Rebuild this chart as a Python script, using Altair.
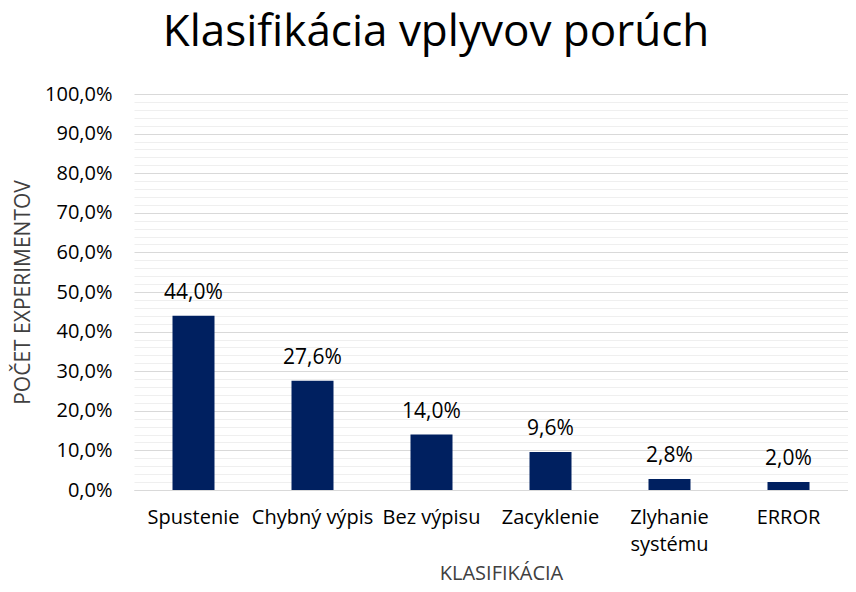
import altair as alt
import pandas as pd

CATEGORIES = ["Spustenie", "Chybný výpis", "Bez výpisu", "Zacyklenie", "Zlyhanie\nsystému", "ERROR"]
VALUES = [44.0, 27.6, 14.0, 9.6, 2.8, 2.0]
Y_TICKS = list(range(0, 101, 2))

TITLE = "Klasifikácia vplyvov porúch"
X_TITLE = "KLASIFIKÁCIA"
Y_TITLE = "POČET EXPERIMENTOV"

FONT = "Open Sans"
BAR_COLOR = "#002060"

df = pd.DataFrame({"cat": CATEGORIES, "val": VALUES})

label_fmt = "replace(format(datum.val, '.1f'), '.', ',') + '%'"

base = alt.Chart(df).encode(
    x=alt.X(
        "cat:N",
        sort=CATEGORIES,
        title=X_TITLE,
        axis=alt.Axis(
            labelExpr="split(datum.label, '\\n')",
            labelAngle=0,
            labelFontSize=20,
            labelFont=FONT,
            labelColor="#000000",
            labelPadding=17,
            labelLineHeight=27,
            ticks=False,
            domainColor="#d9d9d9",
            titleFont=FONT,
            titleFontSize=20,
            titleFontWeight="normal",
            titleColor="#404040",
            titlePadding=9,
            titleX=367,
        ),
    ),
    y=alt.Y(
        "val:Q",
        scale=alt.Scale(domain=[0, 100], nice=False),
        title=Y_TITLE,
        axis=alt.Axis(
            values=Y_TICKS,
            labelExpr="datum.value % 10 === 0 ? replace(format(datum.value, '.1f'), '.', ',') + '%' : ''",
            labelFontSize=20,
            labelFont=FONT,
            labelColor="#000000",
            labelPadding=22,
            ticks=False,
            domain=False,
            gridColor={"condition": {"test": "datum.value % 10 === 0", "value": "#d9d9d9"}, "value": "#efefef"},
            gridWidth=1.2,
            titleFont=FONT,
            titleFontSize=21,
            titleFontWeight="normal",
            titleColor="#404040",
            titlePadding=11,
        ),
    ),
)

bars = base.mark_bar(color=BAR_COLOR, size=42)
texts = base.mark_text(
    baseline="alphabetic", dy=-17, fontSize=21, font=FONT, color="#000000"
).transform_calculate(lab=label_fmt).encode(text="lab:N")

chart = (
    alt.layer(bars, texts)
    .properties(
        width=714,
        height=396,
        title=alt.TitleParams(
            TITLE,
            fontSize=44,
            font=FONT,
            fontWeight="normal",
            color="#000000",
            anchor="middle",
            baseline="top",
            offset=30,
            dy=1,
            dx=-55,
        ),
        autosize=alt.AutoSizeParams(type="none"),
        padding={"left": 126, "top": 86, "right": 0, "bottom": 94},
    )
    .configure_view(stroke=None)
)

chart.save("out.html", embed_options={"renderer": "svg", "actions": False})
